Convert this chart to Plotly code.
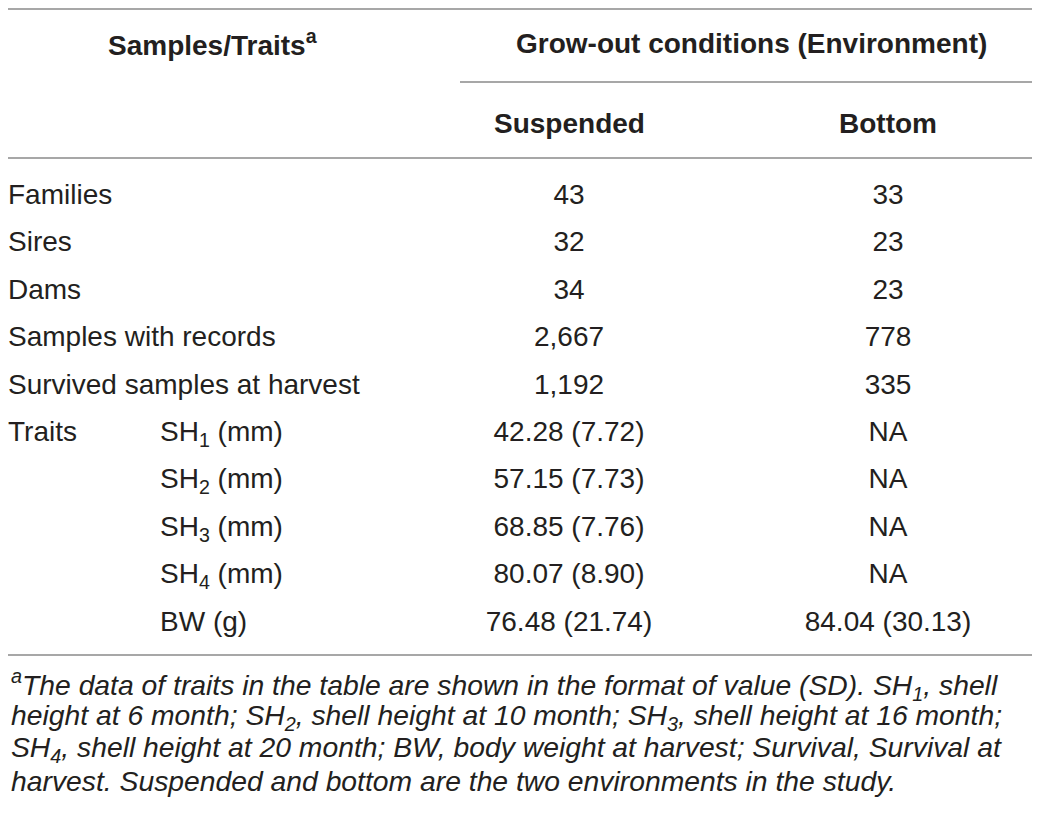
import plotly.graph_objects as go

# table content
row_labels = ["Families", "Sires", "Dams", "Samples with records",
              "Survived samples at harvest", "Traits"]
trait_labels = ["SH<sub>1</sub> (mm)", "SH<sub>2</sub> (mm)", "SH<sub>3</sub> (mm)",
                "SH<sub>4</sub> (mm)", "BW (g)"]
suspended = ["43", "32", "34", "2,667", "1,192",
             "42.28 (7.72)", "57.15 (7.73)", "68.85 (7.76)", "80.07 (8.90)", "76.48 (21.74)"]
bottom = ["33", "23", "23", "778", "335",
          "NA", "NA", "NA", "NA", "84.04 (30.13)"]

header_left = "Samples/Traits<sup>a</sup>"
header_group = "Grow-out conditions (Environment)"
header_cols = ["Suspended", "Bottom"]

footnote_lines = [
    "<sup>a</sup>The data of traits in the table are shown in the format of value (SD). SH<sub>1</sub>, shell",
    "height at 6 month; SH<sub>2</sub>, shell height at 10 month; SH<sub>3</sub>, shell height at 16 month;",
    "SH<sub>4</sub>, shell height at 20 month; BW, body weight at harvest; Survival, Survival at",
    "harvest. Suspended and bottom are the two environments in the study.",
]

W, H = 1040, 818
OFF = 8  # page body margin
txt = "#231f20"
rule = "#8a8a8a"
body_font = "Liberation Sans, Arial, sans-serif"
fs = 28
x_left, x_trait, x_susp, x_bot = 8, 160, 569, 888
row0, row_step = 197, 47.4
rows_y = [row0 + i * row_step for i in range(len(suspended))]
trait_y = rows_y[len(row_labels) - 1:]

fig = go.Figure()
fig.add_trace(go.Scatter(x=[x_left] * len(row_labels), y=rows_y[:len(row_labels)],
                         text=row_labels, mode="text", textposition="middle right",
                         textfont=dict(size=fs, color=txt, family=body_font)))
fig.add_trace(go.Scatter(x=[x_trait] * len(trait_labels), y=trait_y, text=trait_labels,
                         mode="text", textposition="middle right",
                         textfont=dict(size=fs, color=txt, family=body_font)))
fig.add_trace(go.Scatter(x=[x_susp] * len(suspended), y=rows_y, text=suspended,
                         mode="text", textposition="middle center",
                         textfont=dict(size=fs, color=txt, family=body_font)))
fig.add_trace(go.Scatter(x=[x_bot] * len(bottom), y=rows_y, text=bottom,
                         mode="text", textposition="middle center",
                         textfont=dict(size=fs, color=txt, family=body_font)))

# headers
hfont = dict(size=fs, color=txt, family=body_font)
fig.add_annotation(x=213, y=43, text="<b>" + header_left + "</b>", showarrow=False,
                   xref="x", yref="y", font=hfont)
fig.add_annotation(x=751, y=43, text="<b>" + header_group + "</b>", showarrow=False,
                   xref="x", yref="y", font=hfont)
for xc, lab in zip([x_susp, x_bot], header_cols):
    fig.add_annotation(x=xc, y=123, text="<b>" + lab + "</b>", showarrow=False,
                       xref="x", yref="y", font=hfont)

# rules
for y0, xa in [(OFF + 1, OFF), (82, 460), (158, OFF), (655, OFF)]:
    fig.add_shape(type="line", x0=xa, x1=1033, y0=y0, y1=y0, xref="x", yref="y",
                  line=dict(color=rule, width=1.5))

# footnote
foot_y = [685, 717, 749, 781]
for yy, line in zip(foot_y, footnote_lines):
    fig.add_annotation(x=OFF + 0.5, y=yy, text="<i>" + line + "</i>", showarrow=False,
                       xref="x", yref="y", xanchor="left",
                       font=dict(size=28.3, color=txt, family=body_font))

fig.update_xaxes(range=[OFF, W], visible=False, fixedrange=True)
fig.update_yaxes(range=[H, OFF], visible=False, fixedrange=True)
fig.update_layout(width=W - OFF, height=H - OFF, margin=dict(l=0, r=0, t=0, b=0),
                  plot_bgcolor="white", paper_bgcolor="white", showlegend=False)

fig.write_html("out.html")
